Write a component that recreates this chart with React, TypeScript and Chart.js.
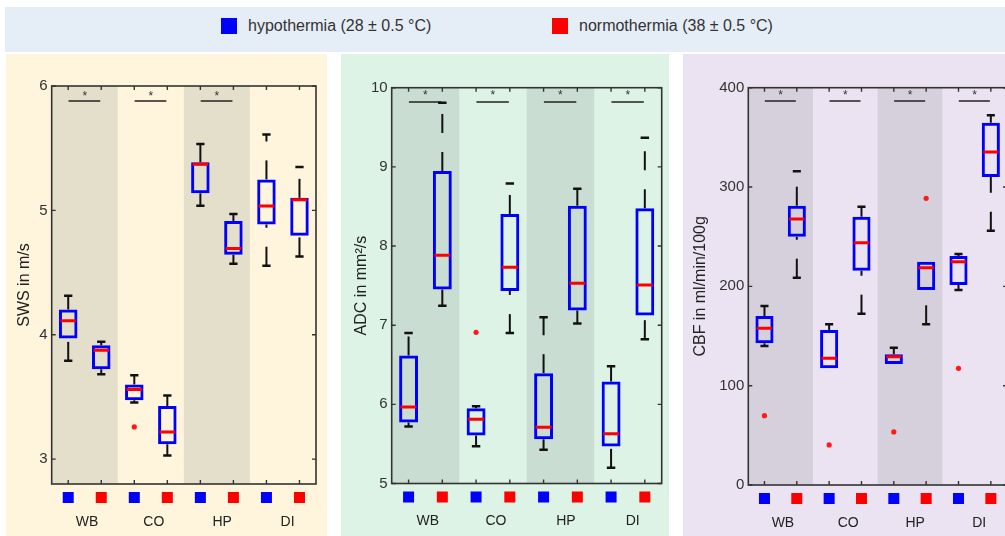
import React, { useEffect, useRef } from "react";
import { Chart, registerables } from "chart.js";
Chart.register(...registerables);

const FONT = "'Liberation Sans', Arial, Helvetica, sans-serif";
Chart.defaults.font.family = FONT;

// ---------- shared layout data ----------
const groupLabels = ["WB", "CO", "HP", "DI"];
const groupLabelX = [1.57, 3.59, 5.66, 7.64];
const boxX = [1, 2, 3, 4, 5, 6, 7, 8];
const boxCondition = [0, 1, 0, 1, 0, 1, 0, 1];
const conditionColors = ["#0000ff", "#ff0000"];
const legendLabels = ["hypothermia (28 ± 0.5 °C)", "normothermia (38 ± 0.5 °C)"];
const shadedRanges = [
  [0.5, 2.5],
  [4.5, 6.5],
];

// ---------- SWS (m/s) ----------
const swsMin = [3.79, 3.683, 3.455, 3.029, 5.037, 4.57, 4.555, 4.63];
const swsQ1 = [3.97, 3.723, 3.474, 3.12, 5.137, 4.643, 4.887, 4.796];
const swsMedian = [4.112, 3.876, 3.56, 3.219, 5.37, 4.694, 5.035, 5.085];
const swsQ3 = [4.203, 3.916, 3.6, 3.428, 5.386, 4.914, 5.249, 5.101];
const swsMax = [4.313, 3.943, 3.675, 3.512, 5.533, 4.97, 5.611, 5.348];
const swsOutlierX = [3];
const swsOutlierY = [3.259];
const swsSignificant = [true, true, true, false];
const swsTicks = [3, 4, 5, 6];

// ---------- ADC (mm²/s) ----------
const adcMin = [5.72, 7.244, 5.472, 6.9, 5.426, 7.02, 5.198, 6.823];
const adcQ1 = [5.77, 7.45, 5.606, 7.433, 5.56, 7.185, 5.467, 7.121];
const adcMedian = [5.965, 7.884, 5.813, 7.732, 5.712, 7.53, 5.63, 7.509];
const adcQ3 = [6.617, 8.948, 5.952, 8.405, 6.394, 8.51, 6.288, 8.477];
const adcMax = [6.9, 9.81, 5.977, 8.79, 7.1, 8.725, 6.482, 9.369];
const adcOutlierX = [3];
const adcOutlierY = [6.91];
const adcSignificant = [true, true, true, true];
const adcTicks = [5, 6, 7, 8, 9, 10];

// ---------- CBF (ml/min/100g) ----------
const cbfMin = [140, 208.7, 117.5, 172.5, 121.8, 161.8, 196.3, 256];
const cbfQ1 = [142.7, 250, 117.5, 215.8, 121.8, 196.3, 201.4, 310.1];
const cbfMedian = [157.8, 267.8, 127.6, 244, 129.2, 218.8, 224.8, 335.3];
const cbfQ3 = [170.2, 281.2, 156, 270.1, 131.6, 224.8, 230.6, 364.8];
const cbfMax = [180.2, 315.8, 161.8, 280.2, 138.2, 224.8, 232.6, 372.2];
const cbfOutlierX = [1, 3, 5, 6, 7];
const cbfOutlierY = [69.8, 40.3, 53.4, 288.6, 117.5];
const cbfSignificant = [true, true, true, true];
const cbfTicks = [0, 100, 200, 300, 400];

type PanelCfg = {
  title: string;
  min: number[];
  q1: number[];
  med: number[];
  q3: number[];
  max: number[];
  outX: number[];
  outY: number[];
  sig: boolean[];
  sigY: number;
  starY: number;
  yMin: number;
  yMax: number;
  ticks: number[];
  left: number;
  width: number;
  canvasWidth: number;
  axisWidth: number;
  titlePad: number;
  pad: { top: number; right: number; bottom: number; left: number };
  bg: string;
  band: string;
};

const panels: PanelCfg[] = [
  {
    title: "SWS in m/s",
    min: swsMin, q1: swsQ1, med: swsMedian, q3: swsQ3, max: swsMax,
    outX: swsOutlierX, outY: swsOutlierY, sig: swsSignificant,
    sigY: 5.88, starY: 5.94, yMin: 2.8, yMax: 6, ticks: swsTicks,
    left: 6, width: 321, canvasWidth: 321, axisWidth: 45.7, titlePad: 9.4,
    pad: { top: 32, right: 11, bottom: 52, left: 0 },
    bg: "#fff4dc", band: "#e4dfcb",
  },
  {
    title: "ADC in mm²/s",
    min: adcMin, q1: adcQ1, med: adcMedian, q3: adcQ3, max: adcMax,
    outX: adcOutlierX, outY: adcOutlierY, sig: adcSignificant,
    sigY: 9.82, starY: 9.94, yMin: 5, yMax: 10, ticks: adcTicks,
    left: 341, width: 328, canvasWidth: 328, axisWidth: 50.7, titlePad: 11.4,
    pad: { top: 33.7, right: 7.3, bottom: 52.5, left: 0 },
    bg: "#ddf3e6", band: "#c9ddd2",
  },
  {
    title: "CBF in ml/min/100g",
    min: cbfMin, q1: cbfQ1, med: cbfMedian, q3: cbfQ3, max: cbfMax,
    outX: cbfOutlierX, outY: cbfOutlierY, sig: cbfSignificant,
    sigY: 386.6, starY: 395, yMin: 0, yMax: 400, ticks: cbfTicks,
    left: 683, width: 322, canvasWidth: 334, axisWidth: 65.3, titlePad: 8.4,
    pad: { top: 33.7, right: 10, bottom: 51, left: 0 },
    bg: "#ebe3f2", band: "#d6d0dc",
  },
];

function buildConfig(cfg: PanelCfg): any {
  const datasets: any[] = [];
  const line = (data: any[], color: string, width: number, dash: number[] = []) => ({
    type: "line",
    data,
    borderColor: color,
    backgroundColor: color,
    borderWidth: width,
    borderDash: dash,
    pointRadius: 0,
    fill: false,
    tension: 0,
  });

  // medians (on top)
  boxX.forEach((x, i) => {
    datasets.push(line([{ x: x - 0.235, y: cfg.med[i] }, { x: x + 0.235, y: cfg.med[i] }], "#ff0000", 3));
  });
  // outliers
  datasets.push({
    type: "scatter",
    data: cfg.outX.map((x, i) => ({ x, y: cfg.outY[i] })),
    backgroundColor: "#ff1a1a",
    borderColor: "#ff1a1a",
    borderWidth: 0,
    pointRadius: 2.6,
    showLine: false,
  });
  // boxes
  datasets.push({
    type: "bar",
    data: boxX.map((x, i) => ({ x, y: [cfg.q1[i], cfg.q3[i]] })),
    backgroundColor: "rgba(0,0,0,0)",
    borderColor: "#0000ff",
    borderWidth: 3,
    borderSkipped: false,
    barPercentage: 1,
    categoryPercentage: 0.56,
  });
  // caps
  boxX.forEach((x, i) => {
    if (cfg.max[i] > cfg.q3[i])
      datasets.push(line([{ x: x - 0.125, y: cfg.max[i] }, { x: x + 0.125, y: cfg.max[i] }], "#111", 2.5));
    if (cfg.min[i] < cfg.q1[i])
      datasets.push(line([{ x: x - 0.125, y: cfg.min[i] }, { x: x + 0.125, y: cfg.min[i] }], "#111", 2.5));
  });
  // whiskers (dashed, drawn from lower value upward)
  boxX.forEach((x, i) => {
    if (cfg.max[i] > cfg.q3[i])
      datasets.push(line([{ x, y: cfg.q3[i] }, { x, y: cfg.max[i] }], "#111", 2, [19, 19]));
    if (cfg.min[i] < cfg.q1[i])
      datasets.push(line([{ x, y: cfg.min[i] }, { x, y: cfg.q1[i] }], "#111", 2, [19, 19]));
  });
  // significance bars
  cfg.sig.forEach((s, g) => {
    if (!s) return;
    datasets.push(line([{ x: 2 * g + 1.01, y: cfg.sigY }, { x: 2 * g + 1.97, y: cfg.sigY }], "#222", 1.6));
  });

  const plugin = {
    id: "boxDecor",
    beforeDatasetsDraw(chart: any) {
      const { ctx, chartArea: a, scales } = chart;
      const xs = scales.x;
      ctx.save();
      ctx.fillStyle = cfg.band;
      shadedRanges.forEach(([s, e]) => {
        const x0 = xs.getPixelForValue(s);
        const x1 = xs.getPixelForValue(e);
        ctx.fillRect(x0, a.top, x1 - x0, a.bottom - a.top);
      });
      ctx.restore();
    },
    afterDraw(chart: any) {
      const { ctx, chartArea: a, scales } = chart;
      const xs = scales.x;
      const ys = scales.y;
      ctx.save();
      // frame
      ctx.strokeStyle = "#333";
      ctx.lineWidth = 1.6;
      ctx.strokeRect(a.left, a.top, a.right - a.left, a.bottom - a.top);
      // ticks
      ctx.lineWidth = 1.4;
      ctx.beginPath();
      boxX.forEach((x) => {
        const px = xs.getPixelForValue(x);
        ctx.moveTo(px, a.top);
        ctx.lineTo(px, a.top + 4);
        ctx.moveTo(px, a.bottom);
        ctx.lineTo(px, a.bottom - 4);
      });
      cfg.ticks.forEach((v) => {
        const py = ys.getPixelForValue(v);
        ctx.moveTo(a.left, py);
        ctx.lineTo(a.left + 4, py);
        ctx.moveTo(a.right, py);
        ctx.lineTo(a.right - 4, py);
      });
      ctx.stroke();
      // asterisks
      ctx.fillStyle = "#333";
      ctx.font = `12px ${FONT}`;
      ctx.textAlign = "center";
      ctx.textBaseline = "alphabetic";
      cfg.sig.forEach((s, g) => {
        if (!s) return;
        const px = xs.getPixelForValue(2 * g + 1.5);
        const py = ys.getPixelForValue(cfg.starY);
        ctx.fillText("*", px, py + 6.5);
      });
      // condition squares
      boxX.forEach((x, i) => {
        const px = xs.getPixelForValue(x);
        ctx.fillStyle = conditionColors[boxCondition[i]];
        ctx.fillRect(px - 5.5, a.bottom + 13.5 - 5.5, 11, 11);
      });
      // group labels
      ctx.fillStyle = "#222";
      ctx.font = `14px ${FONT}`;
      ctx.textBaseline = "middle";
      groupLabels.forEach((lab, g) => {
        ctx.fillText(lab, xs.getPixelForValue(groupLabelX[g]), a.bottom + 38);
      });
      ctx.restore();
    },
  };

  return {
    type: "bar",
    data: { datasets },
    options: {
      animation: false,
      responsive: false,
      events: [],
      layout: { padding: cfg.pad },
      plugins: { legend: { display: false }, tooltip: { enabled: false } },
      scales: {
        x: {
          type: "linear",
          min: 0.5,
          max: 8.5,
          offset: false,
          display: false,
        },
        y: {
          type: "linear",
          min: cfg.yMin,
          max: cfg.yMax,
          afterBuildTicks: (s: any) => {
            s.ticks = cfg.ticks.map((v) => ({ value: v }));
          },
          afterFit: (s: any) => {
            s.width = cfg.axisWidth;
          },
          grid: { display: false, drawTicks: false },
          border: { display: false },
          ticks: { font: { size: 15, family: FONT }, color: "#333", padding: 4 },
          title: {
            display: true,
            text: cfg.title,
            font: { size: 16, family: FONT },
            color: "#222",
            padding: { top: cfg.titlePad, bottom: 0 },
          },
        },
      },
    },
    plugins: [plugin],
  };
}

function Panel({ cfg }: { cfg: PanelCfg }) {
  const ref = useRef<HTMLCanvasElement>(null);
  useEffect(() => {
    const chart = new Chart(ref.current as HTMLCanvasElement, buildConfig(cfg));
    return () => chart.destroy();
  }, [cfg]);
  return (
    <div
      style={{
        position: "absolute",
        left: cfg.left,
        top: 54,
        width: cfg.width,
        height: 482,
        background: cfg.bg,
        overflow: "hidden",
      }}
    >
      <canvas
        ref={ref}
        width={cfg.canvasWidth}
        height={482}
        style={{ display: "block", width: cfg.canvasWidth, height: 482 }}
      />
    </div>
  );
}

export default function App() {
  useEffect(() => {
    document.body.style.margin = "0";
  }, []);
  const legendX = [216, 547];
  return (
    <div
      style={{
        position: "absolute",
        left: 0,
        top: 0,
        width: 1005,
        height: 536,
        overflow: "hidden",
        background: "#ffffff",
        fontFamily: FONT,
      }}
    >
      <div
        style={{
          position: "absolute",
          left: 5,
          top: 7,
          width: 1000,
          height: 45,
          background: "#e5edf7",
        }}
      >
        {legendLabels.map((lab, i) => (
          <React.Fragment key={lab}>
            <div
              style={{
                position: "absolute",
                left: legendX[i],
                top: 11,
                width: 16,
                height: 16,
                background: conditionColors[i],
              }}
            />
            <div
              style={{
                position: "absolute",
                left: legendX[i] + 27,
                top: 10,
                height: 18,
                lineHeight: "18px",
                fontSize: 16,
                color: "#333",
                whiteSpace: "nowrap",
              }}
            >
              {lab}
            </div>
          </React.Fragment>
        ))}
      </div>
      {panels.map((p) => (
        <Panel key={p.title} cfg={p} />
      ))}
    </div>
  );
}
